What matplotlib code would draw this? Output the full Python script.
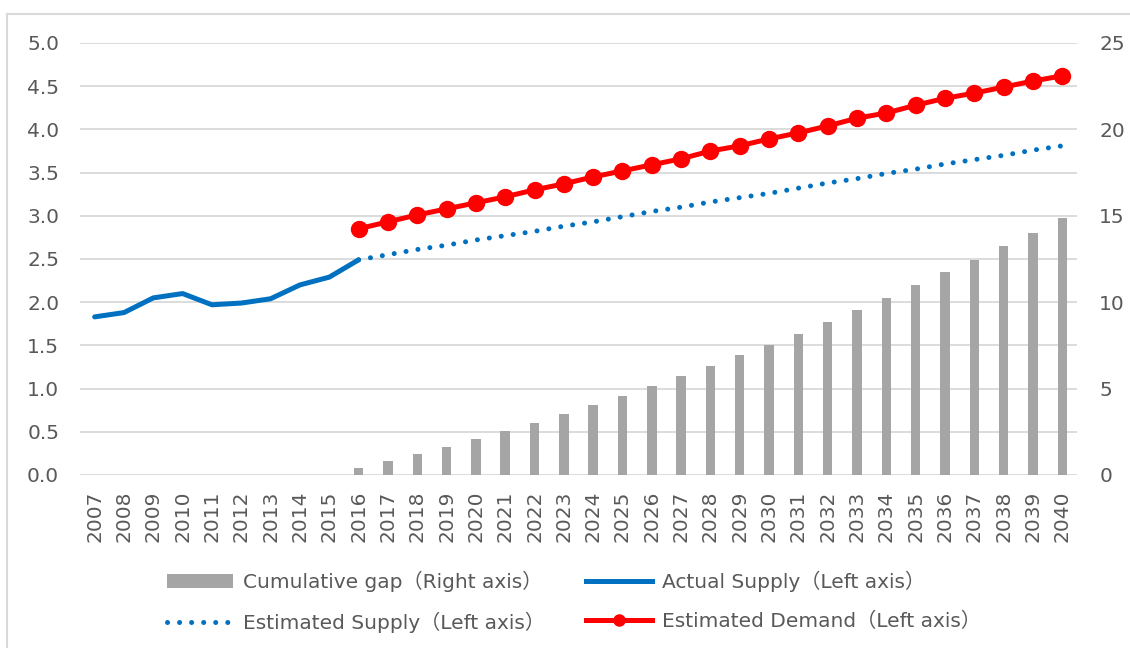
import numpy as np
import matplotlib.pyplot as plt
from matplotlib.lines import Line2D
from matplotlib.patches import Patch, Rectangle

years = [str(y) for y in range(2007, 2041)]

actual_supply = [1.83, 1.88, 2.05, 2.10, 1.97, 1.99, 2.04, 2.20, 2.29, 2.49]
est_supply = [2.49, 2.55, 2.61, 2.66, 2.72, 2.77, 2.82, 2.88, 2.93, 2.99, 3.05,
              3.10, 3.16, 3.21, 3.26, 3.32, 3.38, 3.43, 3.49, 3.54, 3.60, 3.65,
              3.70, 3.76, 3.81]
est_demand = [2.85, 2.93, 3.01, 3.08, 3.15, 3.22, 3.30, 3.37, 3.45, 3.52, 3.59,
              3.66, 3.75, 3.81, 3.89, 3.96, 4.04, 4.13, 4.19, 4.28, 4.36, 4.42,
              4.49, 4.56, 4.62]
cum_gap = [0.42, 0.79, 1.21, 1.64, 2.10, 2.56, 3.02, 3.52, 4.04, 4.58, 5.14,
           5.72, 6.31, 6.93, 7.54, 8.18, 8.85, 9.53, 10.24, 10.97, 11.72, 12.47,
           13.24, 14.03, 14.88]

plt.rcParams['font.family'] = ['DejaVu Sans', 'Noto Sans CJK JP']
plt.rcParams['font.size'] = 14.5

grey_txt = '#595959'
grid_c = '#d9d9d9'
blue = '#0070C0'
red = '#FF0000'
bar_c = '#A5A5A5'

W, H = 1130, 648
fig = plt.figure(figsize=(W / 100, H / 100), dpi=100)

# outer frame of the chart area (only left and top edges show)
fig.add_artist(Line2D([7 / W, 7 / W], [0, 1 - 14 / H], color=grid_c,
                      linewidth=1.5, transform=fig.transFigure))
fig.add_artist(Line2D([7 / W, 1], [1 - 14 / H, 1 - 14 / H], color=grid_c,
                      linewidth=1.5, transform=fig.transFigure))

ax2 = fig.add_axes([80 / W, 1 - 475 / H, 997 / W, 432 / H])
ax = ax2.twinx()
ax.yaxis.tick_left()
ax2.yaxis.tick_right()
ax.set_zorder(2)
ax2.set_zorder(1)
ax.patch.set_visible(False)

x = np.arange(len(years))
i16 = years.index('2016')
xa = x[:len(actual_supply)]
xe = x[i16:i16 + len(est_supply)]

ax2.bar(xe, cum_gap, width=0.32, color=bar_c, zorder=2)
ax2.set_ylim(0, 25)
ax2.set_yticks(np.arange(0, 26, 5))
ax2.set_yticks(np.arange(0, 26, 2.5), minor=True)
ax2.grid(axis='y', which='both', color=grid_c, linewidth=1.3, zorder=0)
ax2.set_axisbelow(True)

ax.plot(xa, actual_supply, color=blue, linewidth=3.6, solid_capstyle='round',
        solid_joinstyle='round')
ax.plot(xe, est_supply, color=blue, linewidth=3.6, linestyle=(0, (0.01, 2.4)),
        dash_capstyle='round')
ax.plot(xe, est_demand, color=red, linewidth=3.6, marker='o', markersize=11.5)
ax.set_ylim(0, 5)
ax.set_yticks(np.arange(0, 5.01, 0.5))
ax.set_yticklabels([f'{v:.1f}' for v in np.arange(0, 5.01, 0.5)])

ax2.set_xlim(-0.5, len(years) - 0.5)
ax2.set_xticks(x)
ax2.set_xticklabels(years, rotation=90)

for a in (ax, ax2):
    for s in a.spines.values():
        s.set_visible(False)
    a.tick_params(axis='both', which='both', length=0, colors=grey_txt,
                  labelsize=14.5)
ax.tick_params(axis='y', pad=15)
ax2.tick_params(axis='y', pad=16)
ax2.tick_params(axis='x', pad=11)

handles = [
    Patch(facecolor=bar_c, edgecolor='none'),
    Line2D([], [], color=blue, linewidth=3.6, linestyle=(0, (0.01, 2.4)),
           dash_capstyle='round'),
    Line2D([], [], color=blue, linewidth=3.6),
    Line2D([], [], color=red, linewidth=3.6, marker='o', markersize=8),
]
labels = ['Cumulative gap（Right axis）', 'Estimated Supply（Left axis）',
          'Actual Supply（Left axis）', 'Estimated Demand（Left axis）']
leg = fig.legend(handles, labels, ncol=2, loc='center',
                 bbox_to_anchor=(574 / W, 1 - 602 / H), frameon=False,
                 handlelength=3.3, handletextpad=0.5, columnspacing=2.0,
                 labelspacing=1.0, fontsize=14.5)
for t in leg.get_texts():
    t.set_color(grey_txt)

fig.savefig('out.png', dpi=100)
